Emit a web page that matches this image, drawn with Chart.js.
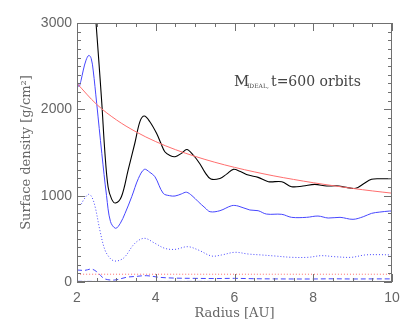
<!DOCTYPE html>
<html>
<head>
<meta charset="utf-8">
<script src="https://cdn.jsdelivr.net/npm/chart.js@4"></script>
<style>
  html, body { margin: 0; padding: 0; background: #fff; }
  canvas { display: block; }
</style>
</head>
<body>
<canvas id="c" width="415" height="332"></canvas>
<script>
// values
const X_TICKS = [2, 4, 6, 8, 10];
const Y_TICKS = [0, 1000, 2000, 3000];

const R_TOTAL = [2.38, 2.48, 2.54, 2.63, 2.71, 2.79, 2.88, 2.98, 3.13, 3.30, 3.47, 3.60, 3.71, 3.85, 4.02, 4.13, 4.23, 4.36, 4.49, 4.65, 4.79, 4.95, 5.12, 5.25, 5.40, 5.63, 5.80, 5.97, 6.15, 6.35, 6.60, 6.86, 7.20, 7.45, 7.74, 8.04, 8.34, 8.59, 8.84, 9.08, 9.27, 9.48, 9.69, 9.94, 10];
const SIGMA_TOTAL = [3650, 3020, 2650, 2070, 1490, 1100, 960, 915, 990, 1300, 1610, 1860, 1922, 1856, 1722, 1606, 1509, 1465, 1451, 1490, 1535, 1471, 1370, 1270, 1193, 1200, 1250, 1305, 1280, 1239, 1212, 1162, 1162, 1104, 1112, 1131, 1112, 1115, 1096, 1085, 1135, 1189, 1196, 1196, 1200];

const R_GAS = [2.0, 2.05, 2.10, 2.16, 2.23, 2.30, 2.36, 2.41, 2.50, 2.63, 2.75, 2.85, 2.98, 3.10, 3.22, 3.39, 3.56, 3.71, 3.85, 3.98, 4.19, 4.35, 4.49, 4.65, 4.78, 4.92, 5.08, 5.25, 5.38, 5.63, 5.93, 6.09, 6.39, 6.60, 6.81, 7.20, 7.45, 7.83, 8.12, 8.38, 8.68, 9.01, 9.27, 9.48, 9.69, 9.94, 10];
const SIGMA_GAS = [2339, 2262, 2330, 2455, 2570, 2625, 2590, 2455, 2069, 1490, 1000, 700, 622, 680, 795, 988, 1200, 1305, 1270, 1219, 1027, 1000, 996, 1020, 1040, 1000, 930, 860, 814, 826, 884, 880, 834, 826, 787, 784, 749, 749, 764, 741, 749, 726, 756, 795, 810, 822, 822];

const R_DOTTED = [2.0, 2.08, 2.18, 2.29, 2.37, 2.46, 2.58, 2.71, 2.85, 2.96, 3.10, 3.22, 3.47, 3.71, 3.98, 4.23, 4.49, 4.81, 5.08, 5.42, 5.67, 6.01, 6.35, 6.69, 7.03, 7.45, 7.87, 8.21, 8.55, 8.97, 9.31, 9.65, 10];
const SIGMA_DOTTED = [930, 892, 960, 1015, 990, 872, 602, 371, 270, 243, 255, 293, 448, 506, 448, 390, 378, 409, 371, 301, 313, 344, 324, 313, 301, 286, 286, 305, 293, 286, 313, 317, 313];

const R_DASHED = [2.0, 2.2, 2.37, 2.5, 2.6, 2.71, 2.96, 3.26, 3.5, 3.77, 4.1, 4.5, 5, 5.5, 6, 6.5, 7, 7.5, 8, 8.5, 9, 9.5, 10];
const SIGMA_DASHED = [139, 135, 150, 119, 75, 35, 23, 55, 65, 73, 54, 45, 42, 40, 42, 38, 36, 35, 35, 37, 35, 36, 36];

const R_DASHDOT = [2, 3, 4, 5, 6, 7, 8, 9, 10];
const SIGMA_DASHDOT = [8, 5, 6, 7, 6, 6, 5, 6, 6];

const R_INIT = [2, 2.5, 3, 3.5, 4, 4.5, 5, 5.5, 6, 6.5, 7, 7.5, 8, 8.5, 9, 9.5, 10];
const SIGMA_INIT = [2300, 2057, 1878, 1739, 1626, 1533, 1455, 1387, 1328, 1276, 1229, 1188, 1150, 1116, 1084, 1055, 1029];

const R_FLOOR = [2, 10];
const SIGMA_FLOOR = [90, 90];

const BLUE = 'rgb(70,70,255)';
const RED = 'rgb(255,110,110)';
const AXIS = '#707070';

const pts = (rs, vs) => rs.map((r, i) => ({ x: r, y: vs[i] }));

function series(rs, vs, color, width, dash) {
  return {
    data: pts(rs, vs),
    borderColor: color,
    borderWidth: width,
    borderDash: dash,
    pointRadius: 0,
    tension: 0.35,
    fill: false,
  };
}

// box round the plot, with inward ticks on all four sides (IDL style)
const frame = {
  id: 'frame',
  afterDraw(chart) {
    const { ctx, chartArea: a, scales } = chart;
    ctx.save();
    ctx.setLineDash([]);
    ctx.strokeStyle = AXIS;
    ctx.lineWidth = 1;
    ctx.strokeRect(a.left + 0.5, a.top + 0.5, a.right - a.left - 1, a.bottom - a.top - 1);
    for (let v = 2; v <= 10.001; v += 0.5) {
      const px = Math.round(scales.x.getPixelForValue(v)) + 0.5;
      const len = Math.abs(v - Math.round(v / 2) * 2) < 0.01 ? 8 : 4;
      ctx.beginPath();
      ctx.moveTo(px, a.bottom); ctx.lineTo(px, a.bottom - len);
      ctx.moveTo(px, a.top); ctx.lineTo(px, a.top + len);
      ctx.stroke();
    }
    for (let v = 0; v <= 3000.1; v += 100) {
      const py = Math.round(scales.y.getPixelForValue(v)) + 0.5;
      const len = v % 1000 === 0 ? 8 : 4;
      ctx.beginPath();
      ctx.moveTo(a.left, py); ctx.lineTo(a.left + len, py);
      ctx.moveTo(a.right, py); ctx.lineTo(a.right - len, py);
      ctx.stroke();
    }

    // annotation
    ctx.fillStyle = '#444';
    ctx.textBaseline = 'alphabetic';
    ctx.font = '15px "DejaVu Serif"';
    ctx.fillText('M', 234, 86);
    ctx.font = '6px "DejaVu Serif"';
    ctx.fillText('IDEAL,', 247, 88);
    ctx.font = '14px "DejaVu Serif"';
    ctx.fillText('t=600 orbits', 271, 86);
    ctx.restore();
  }
};

new Chart(document.getElementById('c'), {
  type: 'line',
  data: {
    datasets: [
      series(R_INIT, SIGMA_INIT, RED, 1, []),
      series(R_FLOOR, SIGMA_FLOOR, RED, 1, [1, 2]),
      series(R_DASHDOT, SIGMA_DASHDOT, BLUE, 1, [5, 2, 1, 2]),
      series(R_DASHED, SIGMA_DASHED, BLUE, 1, [5, 3]),
      series(R_DOTTED, SIGMA_DOTTED, BLUE, 1, [1, 2]),
      series(R_GAS, SIGMA_GAS, BLUE, 1, []),
      series(R_TOTAL, SIGMA_TOTAL, '#000', 1.1, []),
    ],
  },
  options: {
    responsive: false,
    animation: false,
    layout: { padding: { top: 23, right: 23, left: 0, bottom: 0 } },
    plugins: { legend: { display: false }, tooltip: { enabled: false } },
    scales: {
      x: {
        type: 'linear',
        min: 2,
        max: 10,
        afterBuildTicks: s => { s.ticks = X_TICKS.map(v => ({ value: v })); },
        afterFit: s => { s.height = 50; },
        grid: { display: false, drawTicks: false },
        border: { display: false },
        ticks: { color: '#666', padding: 8, maxRotation: 0, callback: v => String(v), font: { family: 'Liberation Sans', size: 14 } },
        title: {
          display: true,
          text: 'Radius [AU]',
          color: '#666',
          padding: { top: 0, bottom: 11 },
          font: { family: 'DejaVu Serif', size: 13 },
        },
      },
      y: {
        min: 0,
        max: 3000,
        afterBuildTicks: s => { s.ticks = Y_TICKS.map(v => ({ value: v })); },
        afterFit: s => { s.width = 77; },
        grid: { display: false, drawTicks: false },
        border: { display: false },
        ticks: { color: '#666', padding: 5, callback: v => String(v), font: { family: 'Liberation Sans', size: 14 } },
        title: {
          display: true,
          text: 'Surface density [g/cm²]',
          color: '#666',
          padding: { top: 19, bottom: 0 },
          font: { family: 'DejaVu Serif', size: 13 },
        },
      },
    },
  },
  plugins: [frame],
});
</script>
</body>
</html>
